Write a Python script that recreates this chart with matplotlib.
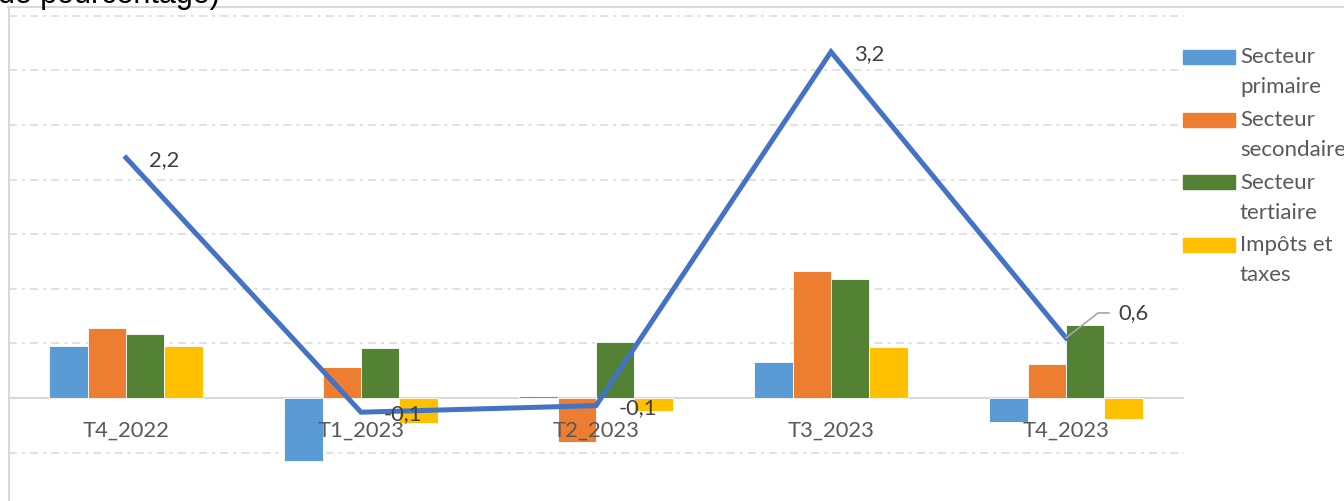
import matplotlib
matplotlib.use('Agg')
import matplotlib.pyplot as plt
from matplotlib.patches import Rectangle
from matplotlib.lines import Line2D
import numpy as np

plt.rcParams['font.family'] = ['Lato', 'DejaVu Sans']
plt.rcParams['lines.scale_dashes'] = False

# data
quarters = ['T4_2022', 'T1_2023', 'T2_2023', 'T3_2023', 'T4_2023']
primaire = [0.48, -0.58, 0.02, 0.33, -0.22]
secondaire = [0.64, 0.28, -0.40, 1.16, 0.31]
tertiaire = [0.59, 0.46, 0.51, 1.09, 0.67]
impots = [0.48, -0.23, -0.12, 0.47, -0.19]
pib = [2.2, -0.13, -0.07, 3.17, 0.55]

series = [primaire, secondaire, tertiaire, impots]
names = ['Secteur\nprimaire', 'Secteur\nsecondaire', 'Secteur\ntertiaire', 'Impôts et\ntaxes']
colors = ['#5B9BD5', '#ED7D31', '#548235', '#FFC000']
line_color = '#4472C4'
grid_color = '#D9D9D9'

W, H = 1344, 501
fig = plt.figure(figsize=(W / 100, H / 100), dpi=100)

# axes placed in pixels: x from 8.5 to 1183.5, full height
ax = fig.add_axes([8.5 / W, 0, 1175 / W, 1])
px_per_unit = 109.2
zero_px = 398
ax.set_ylim(-(H - zero_px) / px_per_unit, zero_px / px_per_unit)
ax.set_xlim(-0.5, len(quarters) - 0.5)

x = np.arange(len(quarters))
bw = 0.163
for k, (vals, c) in enumerate(zip(series, colors)):
    ax.bar(x + (k - 1.5) * bw, vals, bw, color=c, edgecolor='white', linewidth=0.6, zorder=2)

ax.plot(x, pib, color=line_color, lw=3.6, solid_joinstyle='miter', zorder=3)

# data labels
for i, v in enumerate(pib):
    lab = f'{v:.1f}'.replace('.', ',')
    if i == len(pib) - 1:
        ax.annotate(lab, (x[i], v), xytext=(38, 18), textcoords='offset points',
                    ha='left', va='center', fontsize=15.8, color='#404040', zorder=5,
                    arrowprops=dict(arrowstyle='-', color='#A6A6A6', lw=1.2,
                                    shrinkA=5, shrinkB=0,
                                    connectionstyle='angle,angleA=0,angleB=38,rad=0'))
    else:
        ax.annotate(lab, (x[i], v), xytext=(16.5, -1.5), textcoords='offset points',
                    ha='left', va='center', fontsize=15.8, color='#404040', zorder=5)

# gridlines
ax.set_yticks(np.arange(-0.5, 3.6, 0.5))
ax.tick_params(axis='y', length=0, labelleft=False)
ax.grid(axis='y', color=grid_color, lw=1.1, dashes=(5.8, 3.6, 2.2, 3.6), zorder=0)
ax.axhline(0, color=grid_color, lw=1.5, zorder=1)

# category labels
ax.spines['bottom'].set_position(('data', 0))
ax.spines['bottom'].set_visible(False)
ax.set_xticks(x)
ax.set_xticklabels(quarters)
ax.tick_params(axis='x', length=0, pad=28, labelsize=15.8, labelcolor='#595959')
for t in ax.get_xticklabels():
    t.set_verticalalignment('baseline')
ax.xaxis.set_zorder(2.5)   # labels over the bars, under the line

for s in ['top', 'right']:
    ax.spines[s].set_visible(False)
ax.spines['left'].set_color(grid_color)
ax.spines['left'].set_linewidth(1.5)
ax.spines['left'].set_bounds(-(H - zero_px) / px_per_unit, (zero_px - 7.3) / px_per_unit)
ax.set_facecolor('none')

# chart border top line
fig.add_artist(Line2D([7.7 / W, 1], [1 - 7.3 / H] * 2, color=grid_color, lw=1.5))

# cut-off title text
fig.text(-2 / W, 1 - 3.5 / H, 'de pourcentage)', fontsize=22, family='Liberation Sans',
         color='black', va='baseline', ha='left')

# legend
for k, (nm, c) in enumerate(zip(names, colors)):
    base = 63.3 + k * 62.7
    fig.add_artist(Rectangle((1182.7 / W, 1 - (base + 0.7) / H), 52.3 / W, 14 / H,
                             color=c, transform=fig.transFigure))
    for j, line in enumerate(nm.split('\n')):
        fig.text(1240 / W, 1 - (base + 30 * j) / H, line, fontsize=16,
                 color='#595959', va='baseline', ha='left')

fig.savefig('out.png', dpi=100)
